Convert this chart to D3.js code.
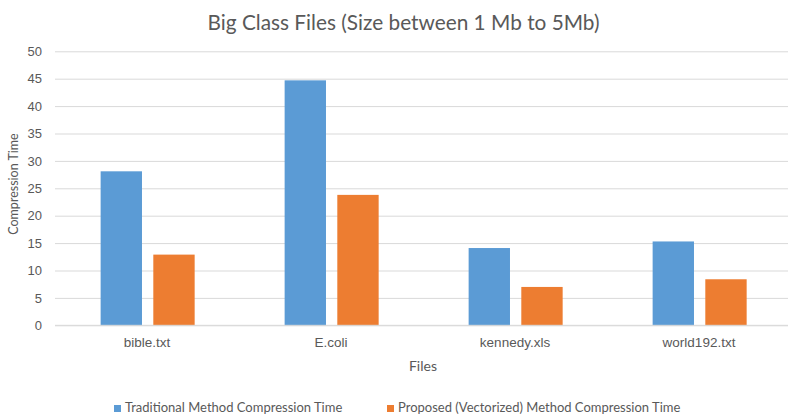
<!DOCTYPE html>
<html>
<head>
<meta charset="utf-8">
<script src="https://cdn.jsdelivr.net/npm/d3@7"></script>
<style>
  html, body { margin: 0; padding: 0; background: #fff; }
  svg { display: block; font-family: Lato, "Open Sans", sans-serif; }
</style>
</head>
<body>
<svg id="chart" width="788" height="417"></svg>
<script>
// Compression time per file, two methods
const categories = ["bible.txt", "E.coli", "kennedy.xls", "world192.txt"];
const seriesNames = ["Traditional Method Compression Time", "Proposed (Vectorized) Method Compression Time"];
const traditional = [28.1, 44.7, 14.1, 15.3];
const proposed = [12.9, 23.8, 7.0, 8.4];
const yTicks = [0, 5, 10, 15, 20, 25, 30, 35, 40, 45, 50];
const colors = ["#5b9bd5", "#ed7d31"];

const svg = d3.select("#chart");
const W = 788, H = 417;
const plot = { left: 55, right: 791, top: 51.3, bottom: 325.3 };
const textColor = "#595959";

const x0 = d3.scaleBand().domain(categories).range([plot.left, plot.right]).padding(0);
const x1 = d3.scaleBand().domain(seriesNames)
  .range([x0.bandwidth() * 0.248, x0.bandwidth() * 0.759])
  .paddingInner(0.215).paddingOuter(0);
const y = d3.scaleLinear().domain([0, 50]).range([plot.bottom, plot.top]);

// Horizontal gridlines
const yAxis = d3.axisLeft(y).tickValues(yTicks).tickSize(-(W - plot.left)).tickPadding(13);
const gy = svg.append("g").attr("transform", `translate(${plot.left},0)`).call(yAxis);
gy.select(".domain").remove();
gy.selectAll(".tick line").attr("stroke", "#d9d9d9").attr("stroke-width", 1);
gy.selectAll(".tick text").attr("fill", textColor).attr("font-size", 13);

// Bars
const rows = categories.map((c, i) => ({ cat: c, vals: [traditional[i], proposed[i]] }));
const groups = svg.append("g").selectAll("g").data(rows).join("g")
  .attr("transform", d => `translate(${x0(d.cat)},0)`);
groups.selectAll("rect")
  .data(d => d.vals.map((v, j) => ({ key: seriesNames[j], v, j })))
  .join("rect")
  .attr("x", d => x1(d.key))
  .attr("width", x1.bandwidth())
  .attr("y", d => y(d.v))
  .attr("height", d => y(0) - y(d.v))
  .attr("fill", d => colors[d.j]);

// Baseline
svg.append("line")
  .attr("x1", plot.left).attr("x2", W)
  .attr("y1", y(0)).attr("y2", y(0))
  .attr("stroke", "#d9d9d9");

// Category labels
const xAxis = d3.axisBottom(x0).tickSize(0).tickPadding(12);
const gx = svg.append("g").attr("transform", `translate(0,${plot.bottom})`).call(xAxis);
gx.select(".domain").remove();
gx.selectAll(".tick text").attr("fill", textColor).attr("font-size", 13.5);

// Title
svg.append("text")
  .attr("x", 403.5).attr("y", 25)
  .attr("text-anchor", "middle").attr("dominant-baseline", "middle")
  .attr("fill", textColor).attr("font-size", 20.8)
  .text("Big Class Files (Size between 1 Mb to 5Mb)");

// Axis titles
svg.append("text")
  .attr("transform", `translate(15,184) rotate(-90)`)
  .attr("text-anchor", "middle").attr("dominant-baseline", "middle")
  .attr("fill", textColor).attr("font-size", 12.5)
  .text("Compression Time");

svg.append("text")
  .attr("x", 423).attr("y", 367)
  .attr("text-anchor", "middle").attr("dominant-baseline", "middle")
  .attr("fill", textColor).attr("font-size", 14)
  .text("Files");

// Legend
const legendX = [114, 387];
const legend = svg.append("g").selectAll("g").data(seriesNames).join("g")
  .attr("transform", (d, i) => `translate(${legendX[i]},408.5)`);
legend.append("rect")
  .attr("x", 0).attr("y", -3.5).attr("width", 7).attr("height", 7)
  .attr("fill", (d, i) => colors[i]);
legend.append("text")
  .attr("x", 11).attr("y", 0)
  .attr("dominant-baseline", "middle")
  .attr("fill", textColor).attr("font-size", 13)
  .text(d => d);
</script>
</body>
</html>
